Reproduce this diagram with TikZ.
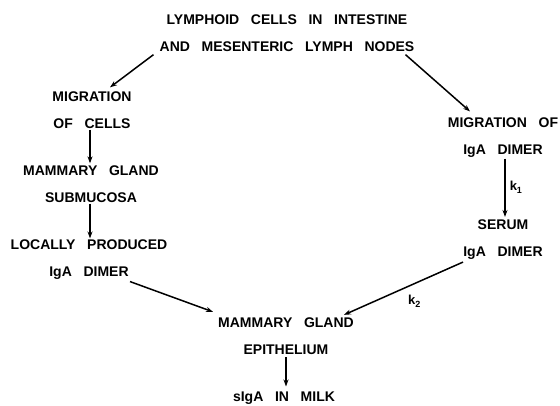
\documentclass[tikz,border=0pt]{standalone}
\usepackage{fontspec}
\setmainfont{Liberation Sans}[WordSpace=3]
\usetikzlibrary{arrows.meta}
\tikzset{
  lbl/.style={font=\bfseries\fontsize{14}{27}\selectfont, align=center, inner sep=0pt},
  klbl/.style={font=\bfseries\fontsize{13}{13}\selectfont, inner sep=0pt},
  arr/.style={line width=1.5pt, -{Stealth[length=7pt,width=5pt]}}
}
\newcommand{\ksub}[1]{k\raisebox{-3pt}{\fontsize{9}{9}\selectfont #1}}
\begin{document}
\begin{tikzpicture}[x=1pt,y=-1pt]
\useasboundingbox (0,0) rectangle (560,405);
\node[lbl] (top) at (287,33) {LYMPHOID CELLS IN INTESTINE\\AND MESENTERIC LYMPH NODES};
\node[lbl] (migcells) at (92,110) {MIGRATION\\OF CELLS};
\node[lbl] (submuc) at (91,184) {MAMMARY GLAND\\SUBMUCOSA};
\node[lbl] (local) at (89,259.5) {LOCALLY PRODUCED\\IgA DIMER};
\node[lbl] (migiga) at (503,137.5) {MIGRATION OF\\IgA DIMER};
\node[lbl] (serum) at (503,240) {SERUM\\IgA DIMER};
\node[lbl] (epi) at (286,336.5) {MAMMARY GLAND\\EPITHELIUM};
\node[lbl] (milk) at (284,398) {sIgA IN MILK};

\draw[arr] ([xshift=-6pt,yshift=-3pt]top.south west) -- ([xshift=18pt,yshift=4pt]migcells.north);
\draw[arr] ([xshift=-9pt,yshift=-3pt]top.south east) -- ([xshift=-33pt,yshift=6pt]migiga.north);
\draw[arr] ([xshift=-2pt,yshift=-1pt]migcells.south) -- ([xshift=-2pt,yshift=2pt]migcells.south |- submuc.north);
\draw[arr] ([xshift=-1pt,yshift=-1pt]submuc.south) -- ([xshift=-1pt,yshift=1pt]submuc.south |- local.north);
\draw[arr] ([xshift=2pt,yshift=-1pt]migiga.south) -- ([xshift=2pt,yshift=3pt]migiga.south |- serum.north)
  node[klbl, midway, right=4pt] (k1) {\ksub{1}};
\draw[arr] ([xshift=41pt,yshift=-2pt]local.south) -- ([xshift=-5pt,yshift=6pt]epi.north west);
\draw[arr] ([xshift=-40pt,yshift=-2pt]serum.south) -- ([xshift=-10pt,yshift=3pt]epi.north east)
  node[klbl, pos=0.41, yshift=-18pt] (k2) {\ksub{2}};
\draw[arr] ([yshift=-2pt]epi.south) -- ([yshift=5pt]epi.south |- milk.north);
\end{tikzpicture}
\end{document}
